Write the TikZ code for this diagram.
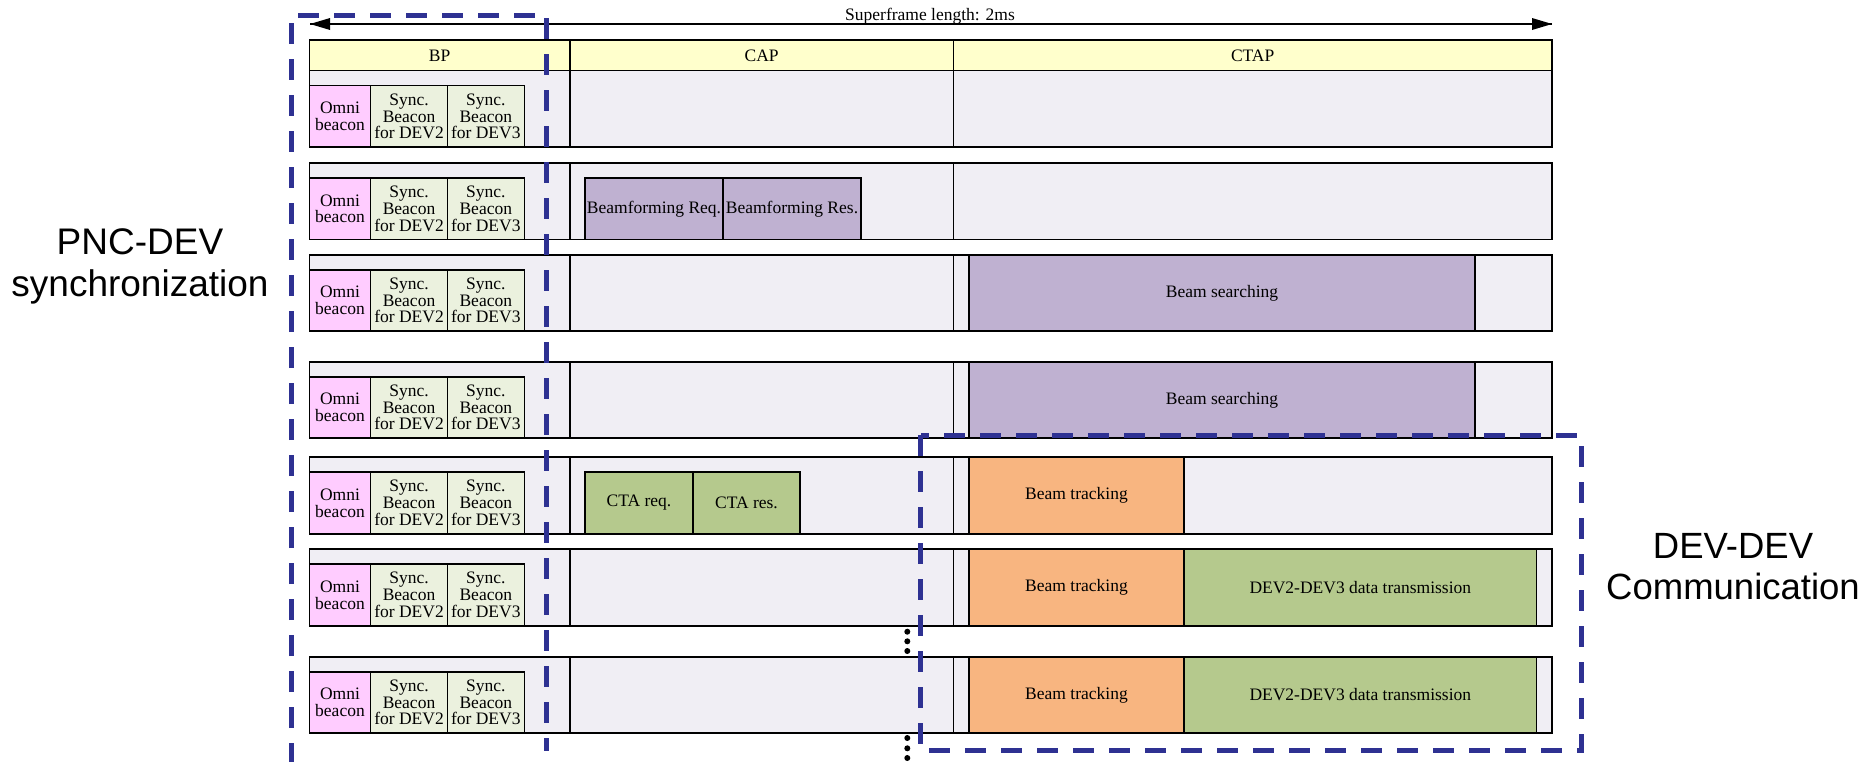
\documentclass[tikz,border=0pt]{standalone}
\usepackage{fontspec}
\setmainfont{Liberation Serif}
\newfontfamily\labelfont{Liberation Sans}
\definecolor{hdrfill}{RGB}{255,255,204}
\definecolor{slotfill}{RGB}{240,238,244}
\definecolor{omnifill}{RGB}{255,204,255}
\definecolor{syncfill}{RGB}{235,241,222}
\definecolor{bfill}{RGB}{191,177,209}
\definecolor{gfill}{RGB}{181,201,141}
\definecolor{ofill}{RGB}{248,181,128}
\definecolor{navy}{RGB}{46,49,146}

\begin{document}
\begin{tikzpicture}[scale=0.35146]
\tikzstyle{every node}+=[inner sep=0pt, align=center, font=\fontsize{17.5}{16.8}\selectfont]
\tikzstyle{box}=[draw=black, line width=1.5pt]
\tikzstyle{hdr}=[box, fill=hdrfill]
\tikzstyle{slot}=[box, fill=slotfill]
\tikzstyle{omni}=[box, fill=omnifill]
\tikzstyle{sync}=[box, fill=syncfill]
\tikzstyle{bsrch}=[box, fill=bfill]
\tikzstyle{cta}=[box, fill=gfill]
\tikzstyle{btrk}=[box, fill=ofill]
\tikzstyle{region}=[draw=navy, line width=5pt, dash pattern=on 21pt off 15pt]
\useasboundingbox (0,0) rectangle (186.4,-76.1);
% superframe arrow
\coordinate (sfa) at (31.0,-2.4);
\coordinate (sfb) at (155.2,-2.4);
\draw [black, line width=1.2pt] (sfa) -- (sfb);
\fill [black] (sfa) -- ++(2.0,0.6) -- ++(0,-1.2) -- cycle;
\fill [black] (sfb) -- ++(-2.0,0.6) -- ++(0,-1.2) -- cycle;
\draw (93.0,-2.0) node [anchor=base] (sflen) {Superframe length: 2ms};
% header
\draw [hdr] (30.93,-4.0) rectangle node (bp) {BP} (57.0,-7.07);
\draw [hdr] (57.0,-4.0) rectangle node (cap) {CAP} (95.33,-7.07);
\draw [hdr] (95.33,-4.0) rectangle node (ctap) {CTAP} (155.2,-7.07);
% superframes
\draw [slot] (30.93,-7.07) rectangle (155.2,-14.7);
\draw [box] (57.0,-7.07) -- (57.0,-14.7) (95.33,-7.07) -- (95.33,-14.7);
\draw [slot] (30.93,-16.3) rectangle (155.2,-23.95);
\draw [box] (57.0,-16.3) -- (57.0,-23.95) (95.33,-16.3) -- (95.33,-23.95);
\draw [slot] (30.93,-25.5) rectangle (155.2,-33.1);
\draw [box] (57.0,-25.5) -- (57.0,-33.1) (95.33,-25.5) -- (95.33,-33.1);
\draw [slot] (30.93,-36.2) rectangle (155.2,-43.8);
\draw [box] (57.0,-36.2) -- (57.0,-43.8) (95.33,-36.2) -- (95.33,-43.8);
\draw [slot] (30.93,-45.7) rectangle (155.2,-53.4);
\draw [box] (57.0,-45.7) -- (57.0,-53.4) (95.33,-45.7) -- (95.33,-53.4);
\draw [slot] (30.93,-54.9) rectangle (155.2,-62.6);
\draw [box] (57.0,-54.9) -- (57.0,-62.6) (95.33,-54.9) -- (95.33,-62.6);
\draw [slot] (30.93,-65.7) rectangle (155.2,-73.3);
\draw [box] (57.0,-65.7) -- (57.0,-73.3) (95.33,-65.7) -- (95.33,-73.3);
% beacon period
\draw [omni] (30.93,-8.57) rectangle node (om1) {Omni\\beacon} (37.07,-14.7);
\draw [sync] (37.07,-8.57) rectangle node (sa1) {Sync.\\Beacon\\for DEV2} (44.73,-14.7);
\draw [sync] (44.73,-8.57) rectangle node (sb1) {Sync.\\Beacon\\for DEV3} (52.43,-14.7);
\draw [omni] (30.93,-17.8) rectangle node (om2) {Omni\\beacon} (37.07,-23.95);
\draw [sync] (37.07,-17.8) rectangle node (sa2) {Sync.\\Beacon\\for DEV2} (44.73,-23.95);
\draw [sync] (44.73,-17.8) rectangle node (sb2) {Sync.\\Beacon\\for DEV3} (52.43,-23.95);
\draw [omni] (30.93,-27.0) rectangle node (om3) {Omni\\beacon} (37.07,-33.1);
\draw [sync] (37.07,-27.0) rectangle node (sa3) {Sync.\\Beacon\\for DEV2} (44.73,-33.1);
\draw [sync] (44.73,-27.0) rectangle node (sb3) {Sync.\\Beacon\\for DEV3} (52.43,-33.1);
\draw [omni] (30.93,-37.7) rectangle node (om4) {Omni\\beacon} (37.07,-43.8);
\draw [sync] (37.07,-37.7) rectangle node (sa4) {Sync.\\Beacon\\for DEV2} (44.73,-43.8);
\draw [sync] (44.73,-37.7) rectangle node (sb4) {Sync.\\Beacon\\for DEV3} (52.43,-43.8);
\draw [omni] (30.93,-47.2) rectangle node (om5) {Omni\\beacon} (37.07,-53.4);
\draw [sync] (37.07,-47.2) rectangle node (sa5) {Sync.\\Beacon\\for DEV2} (44.73,-53.4);
\draw [sync] (44.73,-47.2) rectangle node (sb5) {Sync.\\Beacon\\for DEV3} (52.43,-53.4);
\draw [omni] (30.93,-56.4) rectangle node (om6) {Omni\\beacon} (37.07,-62.6);
\draw [sync] (37.07,-56.4) rectangle node (sa6) {Sync.\\Beacon\\for DEV2} (44.73,-62.6);
\draw [sync] (44.73,-56.4) rectangle node (sb6) {Sync.\\Beacon\\for DEV3} (52.43,-62.6);
\draw [omni] (30.93,-67.2) rectangle node (om7) {Omni\\beacon} (37.07,-73.3);
\draw [sync] (37.07,-67.2) rectangle node (sa7) {Sync.\\Beacon\\for DEV2} (44.73,-73.3);
\draw [sync] (44.73,-67.2) rectangle node (sb7) {Sync.\\Beacon\\for DEV3} (52.43,-73.3);
% beamforming and CTA exchange
\draw [bsrch] (58.5,-17.8) rectangle node (bfq) {Beamforming Req.} (72.3,-23.95);
\draw [bsrch] (72.3,-17.8) rectangle node (bfs) {Beamforming Res.} (86.1,-23.95);
\draw [bsrch] (96.9,-25.5) rectangle node (bs3) {Beam searching} (147.5,-33.1);
\draw [bsrch] (96.9,-36.2) rectangle node (bs4) {Beam searching} (147.5,-43.8);
\draw [cta] (58.5,-47.2) rectangle node (ctq) {CTA req.} (69.3,-53.4);
\draw [cta] (69.3,-47.2) rectangle node (cts) {CTA res.} (80.0,-53.4);
\draw [btrk] (96.9,-45.7) rectangle node (bt5) {Beam tracking} (118.4,-53.4);
\draw [btrk] (96.9,-54.9) rectangle node (bt6) {Beam tracking} (118.4,-62.6);
\draw [cta] (118.4,-54.9) rectangle node (dt6) {DEV2-DEV3 data transmission} (153.66,-62.6);
\draw [btrk] (96.9,-65.7) rectangle node (bt7) {Beam tracking} (118.4,-73.3);
\draw [cta] (118.4,-65.7) rectangle node (dt7) {DEV2-DEV3 data transmission} (153.66,-73.3);
% more superframes
\fill [black] (90.73,-63.17) circle (0.3);
\fill [black] (90.73,-64.13) circle (0.3);
\fill [black] (90.73,-65.1) circle (0.3);
\fill [black] (90.73,-73.8) circle (0.3);
\fill [black] (90.73,-74.83) circle (0.3);
\fill [black] (90.73,-75.8) circle (0.3);
% phases
\draw [region] (29.1,-80.0) |- (54.67,-1.5) -- (54.67,-75.1);
\draw [region] (92.07,-43.5) rectangle (158.1,-75.07);
\draw (14.0,-26.66) node [font=\labelfont\fontsize{37}{41.7}\selectfont] (pnc) {PNC-DEV\\synchronization};
\draw (173.3,-56.65) node [font=\labelfont\fontsize{36.5}{41.7}\selectfont] (ddc) {DEV-DEV\\Communication};
\end{tikzpicture}
\end{document}
